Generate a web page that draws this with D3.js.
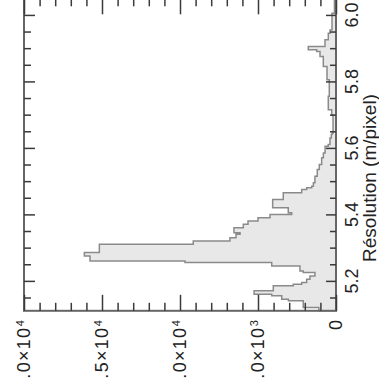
<!DOCTYPE html>
<html><head><meta charset="utf-8">
<script src="https://cdn.jsdelivr.net/npm/d3@7"></script>
<style>html,body{margin:0;padding:0;background:#fff;overflow:hidden}</style>
</head><body>
<svg id="c" width="379" height="379"></svg>
<script>
// Histogram of resolution (m/pixel): bins of width binStep starting at binLow
const binLow = 5.11;
const binStep = 0.005;
const counts = [
  1100,1100,2100,2100,2100,2100,3050,3480,3480,4120,
  5250,5250,4020,4020,4020,2740,2200,1880,1880,1670,
  1670,1350,1350,2100,2310,2310,2310,4120,4120,9680,
  15770,15770,15770,16130,16130,15170,15170,15170,15170,15170,
  9150,9150,6800,6800,6410,6410,6150,6540,6540,6540,
  5940,5940,5640,5640,5000,5000,4230,4230,2840,3060,
  3060,3060,4060,4060,4060,4060,4060,3380,3380,3380,
  3380,2200,2200,1880,1560,1450,1450,1350,1350,1350,
  1350,1200,1200,1200,1200,1070,1070,1070,920,920,
  920,920,810,810,810,700,700,700,700,500,
  385,385,385,385,300,300,250,190,190,190,
  190,190,190,190,190,190,190,190,276,276,
  276,494,494,494,494,494,494,494,494,430,
  430,430,430,430,430,430,430,430,430,577,
  577,577,577,577,577,577,577,814,814,814,
  814,814,814,1026,1026,1026,1237,1776,1776,705,
  705,705,705,494,494,494,494,385,385,256,
  256,256,256,256,256,256,256,256,256,100,
  100,100,100,100,100,100,100
];
const posMajor = [5.2, 5.4, 5.6, 5.8, 6.0];
const posMinor = [5.15, 5.25, 5.3, 5.35, 5.45, 5.5, 5.55, 5.65, 5.7, 5.75, 5.85, 5.9, 5.95];
const valMajor = [0, 5000, 10000, 15000, 20000];
const valMant = ["0", "5.0×10", "1.0×10", "1.5×10", "2.0×10"];
const valExp  = ["", "3", "4", "4", "4"];
const valMinor = [1000,2000,3000,4000,6000,7000,8000,9000,11000,12000,13000,14000,16000,17000,18000,19000];
const axisTitle = "Résolution (m/pixel)";

const svg = d3.select("#c");
const font = "'Liberation Sans', Arial, Helvetica, sans-serif";
const L = 24, R = 336, B = 310.8, T = -1.7;
const y = d3.scaleLinear().domain([5.11, 6.05]).range([B, T]);
const x = d3.scaleLinear().domain([0, 20000]).range([R, L]);

// histogram outline
const pts = [[x(0), y(binLow)]];
counts.forEach((c, i) => {
  const a = binLow + i * binStep, b = a + binStep;
  pts.push([x(c), y(a)], [x(c), y(b)]);
});
pts.push([x(0), y(binLow + counts.length * binStep)]);
svg.append("path")
  .attr("d", d3.line()(pts) + "Z")
  .attr("fill", "#e8e8e8")
  .attr("stroke", "#8a8a8a")
  .attr("stroke-width", 1.5)
  .attr("stroke-linejoin", "miter");

// frame
svg.append("rect").attr("x", L).attr("y", T).attr("width", R - L).attr("height", B - T)
  .attr("fill", "none").attr("stroke", "#666").attr("stroke-width", 2);

function ax(gen, tx, ty, vals, size) {
  svg.append("g").attr("transform", `translate(${tx},${ty})`)
    .call(gen.tickValues(vals).tickSize(size).tickSizeOuter(0).tickFormat(""))
    .call(g => g.select(".domain").remove())
    .selectAll("line").attr("stroke", "#3a3a3a").attr("stroke-width", 1.5);
}
ax(d3.axisBottom(x), 0, B, valMajor, -16);
ax(d3.axisBottom(x), 0, B, valMinor, -8);
ax(d3.axisTop(x), 0, T, valMajor, -16);
ax(d3.axisTop(x), 0, T, valMinor, -8);
ax(d3.axisRight(y), R, 0, posMajor, -10);
ax(d3.axisRight(y), R, 0, posMinor, -6);
ax(d3.axisLeft(y), L, 0, posMajor, -11);
ax(d3.axisLeft(y), L, 0, posMinor, -7);

// position labels (right side, rotated)
svg.append("g").selectAll("text").data(posMajor).join("text")
  .attr("transform", d => `translate(358,${y(d)}) rotate(-90)`)
  .attr("text-anchor", "middle")
  .attr("font-family", font).attr("font-size", 18).attr("fill", "#222")
  .text(d => d3.format(".1f")(d));

// value labels (bottom, rotated)
const vl = svg.append("g").selectAll("text").data(valMajor).join("text")
  .attr("transform", d => `translate(${x(d)},320) rotate(-90)`)
  .attr("text-anchor", "end")
  .attr("font-family", font).attr("font-size", 18).attr("fill", "#222");
vl.append("tspan").attr("dy", "0.35em").attr("letter-spacing", (d, i) => valExp[i] ? 1.3 : 0)
  .text((d, i) => valMant[i]);
vl.append("tspan").attr("dy", "-0.55em").attr("dx", 0.5).attr("font-size", 11).text((d, i) => valExp[i]);

// axis title
svg.append("text")
  .attr("transform", "translate(376,178) rotate(-90)")
  .attr("text-anchor", "middle")
  .attr("font-family", font).attr("font-size", 19).attr("fill", "#222")
  .text(axisTitle);
</script>
</body></html>
